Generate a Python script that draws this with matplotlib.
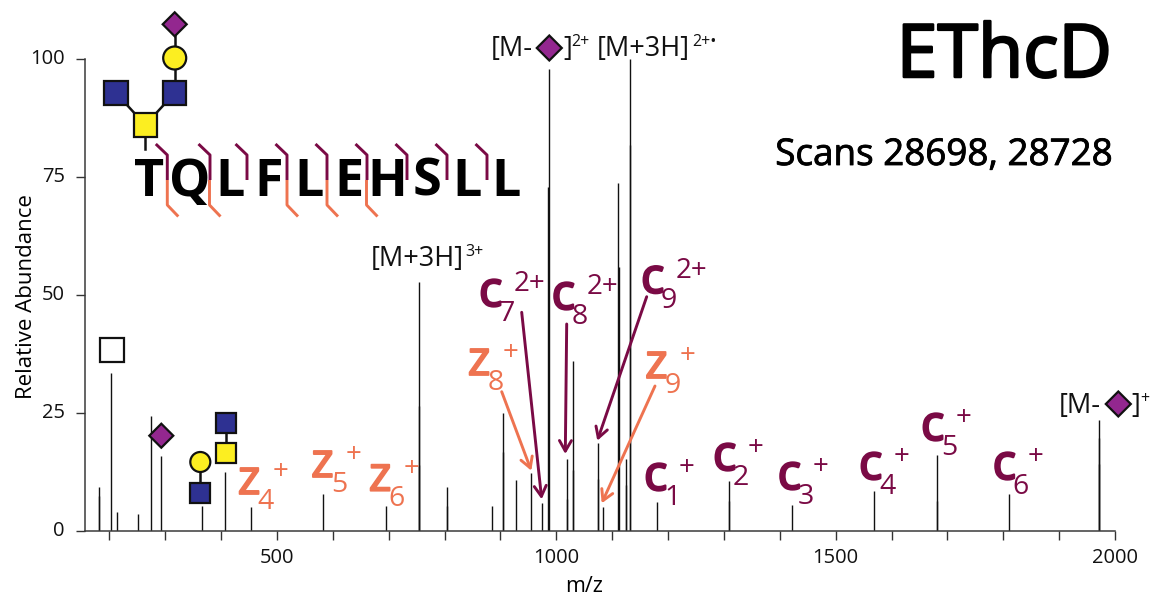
import matplotlib
matplotlib.use("Agg")
import matplotlib.pyplot as plt
import matplotlib.patheffects as pe
from matplotlib.patches import Rectangle, Circle, Polygon
from matplotlib.transforms import ScaledTranslation

plt.rcParams['font.family'] = ['Open Sans', 'DejaVu Sans']

# peaks
mz = [181.4, 203.4, 213.6, 251.7, 273.9, 291.8, 365.8, 406.9, 453.5, 581.8, 695.1,
      754.7, 803.7, 884.3, 904.5, 928.3, 954.6, 974.9, 986.3, 1018.5, 1029.8, 1074.5,
      1083.0, 1110.9, 1124.1, 1132.3, 1180.7, 1309.5, 1422.3, 1568.5, 1681.8, 1810.6, 1971.8]
abundance = [9.3, 33.5, 4.1, 3.7, 24.4, 15.9, 5.3, 12.5, 5.1, 7.9, 5.3,
             52.7, 9.4, 5.3, 25.1, 10.8, 12.2, 5.9, 97.9, 15.3, 36.0, 18.7,
             5.1, 73.7, 15.2, 100.0, 6.1, 10.5, 5.5, 8.5, 16.1, 7.8, 23.5]

# second scan, sits almost on top of the first
mz2 = [181.7, 754.2, 754.4, 804.0, 905.0, 985.9, 1019.0, 1030.2, 1074.9, 1111.3,
       1124.4, 1132.7, 1309.9, 1682.1, 1971.5, 1972.0]
abundance2 = [7.5, 26.4, 14.0, 5.3, 16.8, 72.8, 6.7, 13.0, 11.0, 56.0,
              9.7, 81.8, 6.4, 6.4, 19.6, 14.3]

sequence = ['T', 'Q', 'L', 'F', 'L', 'E', 'H', 'S', 'L', 'L']

x_ticks = list(range(200, 2001, 100))
x_labels = [str(t) if t % 500 == 0 else '' for t in x_ticks]
y_ticks = [0, 25, 50, 75, 100]

W, H = 1154, 595
DARK = '#7a0a45'
ORANGE = '#ee7350'
BLUE = '#2e3192'
YELLOW = '#fcee21'
PURPLE = '#93278f'

fig = plt.figure(figsize=(W / 100, H / 100), dpi=100)
ax = fig.add_axes([85 / W, 1 - 531 / H, (1115 - 85) / W, (531 - 59) / H])
ax.vlines(mz, 0, abundance, color='#111111', lw=1.0)
ax.vlines(mz2, 0, abundance2, color='#111111', lw=1.0)
ax.set_xlim(156.3, 2000)
ax.set_ylim(0, 100)
ax.set_xticks(x_ticks)
ax.set_xticklabels(x_labels)
ax.set_yticks(y_ticks)
ax.tick_params(axis='both', length=6.5, width=1.0, color='#333333', labelsize=14.5, labelcolor='#111111')
ax.tick_params(axis='y', pad=8)
ax.tick_params(axis='x', pad=6)
# y tick labels sit a little above their ticks
for lab in ax.get_yticklabels():
    lab.set_transform(lab.get_transform() + ScaledTranslation(0, 3 / 100, fig.dpi_scale_trans))
ax.spines['top'].set_visible(False)
ax.spines['right'].set_visible(False)
for side in ['left', 'bottom']:
    ax.spines[side].set_color('#3a3a3a')
    ax.spines[side].set_linewidth(1.1)
ax.set_xlabel('m/z', fontsize=15.5, va='baseline')
ax.set_ylabel('Relative Abundance', fontsize=16, va='baseline', ha='center', rotation_mode='anchor')
ax.xaxis.set_label_coords(0.4848, -0.129)
ax.yaxis.set_label_coords(-0.0519, 0.4958)

# overlay in pixels for the annotations
ov = fig.add_axes([0, 0, 1, 1])
ov.set_xlim(0, W)
ov.set_ylim(H, 0)
ov.axis('off')
ov.patch.set_alpha(0)


def heavy(width, color):
    return [pe.withStroke(linewidth=width, foreground=color)]


def link(x0, y0, x1, y1):
    ov.plot([x0, x1], [y0, y1], color='#111111', lw=1.8, zorder=3)


def square(x, y, color, side=23.5):
    ov.add_patch(Rectangle((x - side / 2, y - side / 2), side, side, fc=color, ec='#111111', lw=1.6, zorder=4))


def circle(x, y, color=YELLOW, r=11.5):
    ov.add_patch(Circle((x, y), r, fc=color, ec='#111111', lw=1.6, zorder=4))


def diamond(x, y, r=12, color=PURPLE):
    ov.add_patch(Polygon([(x - r, y), (x, y - r), (x + r, y), (x, y + r)], fc=color, ec='#111111', lw=1.6, zorder=4))


def ion(x, y, letter, sub, sup, color):
    stroke = 1.7 if letter == 'c' else 1.3
    ov.text(x + 1, y, letter, color=color, fontsize=35, ha='left', va='baseline', path_effects=heavy(stroke, color))
    ov.text(x + 21, y + 15, sub, color=color, fontsize=20.5, ha='left', va='baseline')
    ov.text(x + 36, y - 15, sup, color=color, fontsize=20, ha='left', va='baseline')


def arrow(x0, y0, x1, y1, color):
    ov.annotate('', xy=(x1, y1), xytext=(x0, y0),
                arrowprops=dict(arrowstyle='->,head_length=0.42,head_width=0.24', color=color, lw=2.1,
                                shrinkA=0, shrinkB=0, mutation_scale=18), zorder=6)


# glycan on the peptide
link(174.7, 24, 174.7, 93)
link(116, 93, 145.3, 125)
link(174.7, 93, 145.3, 125)
link(145.3, 125, 145.3, 149)
diamond(174.7, 24.3)
circle(174.7, 58)
square(174.7, 93, BLUE)
square(116, 93, BLUE)
square(145.3, 125, YELLOW)

# oxonium ions
square(112, 350, 'white')
diamond(161.3, 435.7)
link(200.3, 462, 200.3, 492)
circle(200.3, 462, r=10)
square(200.3, 492.7, BLUE, 20)
link(226.3, 422, 226.3, 453)
square(226.3, 422.7, BLUE, 20)
square(226.3, 453.3, YELLOW, 20)

# peptide sequence
letter_x = [149.5, 190, 230, 268.5, 309.5, 348.5, 387.5, 426.5, 467, 506.5]
for lx, aa in zip(letter_x, sequence):
    ov.text(lx, 196, aa, fontsize=37.5, fontweight='bold', color='black', ha='center', va='baseline')

c_cuts = [167.3, 210, 247, 287, 327, 367, 407, 447, 487]
for cx in c_cuts:
    ov.plot([cx - 11.5, cx, cx], [144, 155, 180], color=DARK, lw=2.1, zorder=5, solid_capstyle='butt')
z_cuts = [167.3, 209.5, 287, 327, 366.5]
for cx in z_cuts:
    ov.plot([cx, cx, cx + 11], [180, 205, 216.5], color=ORANGE, lw=2.1, zorder=5, solid_capstyle='butt')

# titles
ov.text(1112, 77, 'EThcD', fontsize=53, color='black', ha='right', va='baseline', path_effects=heavy(1.8, 'black'))
ov.text(1112, 165, 'Scans 28698, 28728', fontsize=26.5, color='black', ha='right', va='baseline', path_effects=heavy(0.6, 'black'))

# precursor labels
ov.text(491, 56, '[M-', fontsize=19.5, color='#111111', va='baseline')
diamond(549.3, 48, 12.5)
ov.text(563, 56, ']', fontsize=19.5, color='#111111', va='baseline')
ov.text(571, 46, '2+', fontsize=11.5, color='#111111', va='baseline')
ov.text(597, 56, '[M+3H]', fontsize=19.5, color='#111111', va='baseline')
ov.text(692, 46, '2+•', fontsize=11.5, color='#111111', va='baseline')
ov.text(371, 266, '[M+3H]', fontsize=19.5, color='#111111', va='baseline')
ov.text(465, 256, '3+', fontsize=11.5, color='#111111', va='baseline')
ov.text(1059, 413, '[M-', fontsize=19.5, color='#111111', va='baseline')
diamond(1118.3, 404, 12.5)
ov.text(1131, 413, ']', fontsize=19.5, color='#111111', va='baseline')
ov.text(1140, 403, '+', fontsize=11.5, color='#111111', va='baseline')

# fragment ions
ion(236.7, 494, 'z', '4', '+', ORANGE)
ion(310, 477, 'z', '5', '+', ORANGE)
ion(367.7, 490.7, 'z', '6', '+', ORANGE)
ion(466.7, 375, 'z', '8', '+', ORANGE)
ion(644, 378, 'z', '9', '+', ORANGE)
ion(478, 306, 'c', '7', '2+', DARK)
ion(550.7, 309, 'c', '8', '2+', DARK)
ion(640, 292.7, 'c', '9', '2+', DARK)
ion(643, 490, 'c', '1', '+', DARK)
ion(712, 470, 'c', '2', '+', DARK)
ion(776.7, 489, 'c', '3', '+', DARK)
ion(858, 479, 'c', '4', '+', DARK)
ion(920, 440, 'c', '5', '+', DARK)
ion(991.7, 479, 'c', '6', '+', DARK)

arrow(521.7, 312.3, 541.7, 499.3, DARK)
arrow(566.7, 324, 565.3, 454, DARK)
arrow(646.7, 296.7, 597.3, 440.7, DARK)
arrow(501.7, 391.7, 531.3, 470.7, ORANGE)
arrow(655, 386, 601.7, 503.3, ORANGE)

fig.savefig('out.png', dpi=100)
